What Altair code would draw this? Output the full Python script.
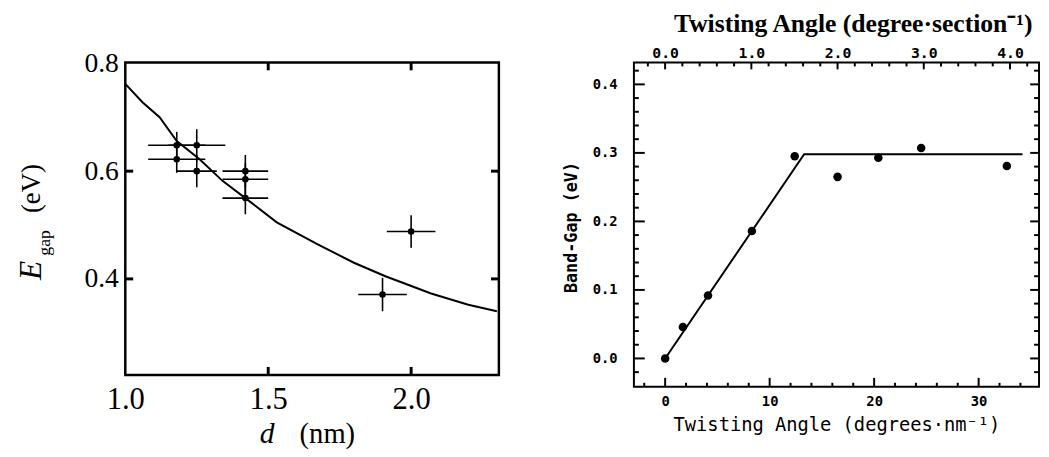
import altair as alt
import pandas as pd

# ---------------- left panel: E_gap vs ribbon width d ----------------
curve_d = [1.00, 1.06, 1.12, 1.18, 1.26, 1.34, 1.42, 1.53, 1.67, 1.80, 1.91, 2.07, 2.20, 2.30]
curve_e = [0.762, 0.728, 0.700, 0.656, 0.622, 0.582, 0.550, 0.505, 0.465, 0.430, 0.405, 0.373, 0.352, 0.340]

pt_d = [1.18, 1.25, 1.18, 1.25, 1.42, 1.42, 1.42, 2.00, 1.90]
pt_e = [0.648, 0.648, 0.622, 0.600, 0.600, 0.585, 0.550, 0.488, 0.371]
pt_d_err = [0.10, 0.10, 0.10, 0.07, 0.08, 0.08, 0.08, 0.085, 0.085]
pt_e_err = [0.025, 0.030, 0.025, 0.030, 0.030, 0.030, 0.030, 0.030, 0.031]

left_x_labels = [1.0, 1.5, 2.0]
left_y_labels = [0.4, 0.6, 0.8]
left_x_ticks = [1.5, 2.0]
left_y_ticks = [0.4, 0.6]

# ---------------- right panel: band gap vs twisting angle ----------------
twist_nm = [0.0, 1.7, 4.1, 8.3, 12.4, 16.5, 20.4, 24.5, 32.7]
band_gap = [0.000, 0.046, 0.092, 0.186, 0.295, 0.265, 0.293, 0.307, 0.281]
fit_nm = [0.0, 13.3, 34.2]
fit_gap = [0.000, 0.298, 0.298]

bot_major = [0, 10, 20, 30]
bot_minor = [-2, 2, 4, 6, 8, 12, 14, 16, 18, 22, 24, 26, 28, 32, 34]
top_major = [0.0, 1.0, 2.0, 3.0, 4.0]
top_minor = [-0.2, 0.2, 0.4, 0.6, 0.8, 1.2, 1.4, 1.6, 1.8, 2.2, 2.4, 2.6, 2.8,
             3.2, 3.4, 3.6, 3.8, 4.2]
y_major = [0.0, 0.1, 0.2, 0.3, 0.4]
y_minor = [-0.02, 0.02, 0.04, 0.06, 0.08, 0.12, 0.14, 0.16, 0.18, 0.22, 0.24,
           0.26, 0.28, 0.32, 0.34, 0.36, 0.38, 0.42]

# ---------------- left chart ----------------
LW, LH = 379, 317
SERIF = "Liberation Serif"

lx_scale = alt.Scale(domain=[1.0, 2.307], nice=False, zero=False)
ly_scale = alt.Scale(domain=[0.2218, 0.8018], nice=False, zero=False)
lx_axis = alt.Axis(values=left_x_labels, format=".1f", title=None, ticks=False, domain=False,
                   grid=False, labelFont=SERIF, labelFontSize=31, labelColor="black",
                   labelPadding=10, labelFlush=False)
ly_axis = alt.Axis(values=left_y_labels, format=".1f", title=None, ticks=False, domain=False,
                   grid=False, labelFont=SERIF, labelFontSize=28, labelColor="black",
                   labelPadding=7, labelFlush=False)

def LX(f):
    return alt.X(f, type="quantitative", scale=lx_scale, axis=lx_axis)

def LY(f):
    return alt.Y(f, type="quantitative", scale=ly_scale, axis=ly_axis)

curve_df = pd.DataFrame({"d": curve_d, "e": curve_e})
pts_df = pd.DataFrame({"d": pt_d, "e": pt_e})
pts_df["d_lo"] = [a - b for a, b in zip(pt_d, pt_d_err)]
pts_df["d_hi"] = [a + b for a, b in zip(pt_d, pt_d_err)]
pts_df["e_lo"] = [a - b for a, b in zip(pt_e, pt_e_err)]
pts_df["e_hi"] = [a + b for a, b in zip(pt_e, pt_e_err)]
lxt_df = pd.DataFrame({"d": left_x_ticks})
lyt_df = pd.DataFrame({"e": left_y_ticks})
one = pd.DataFrame({"k": [0]})

curve = alt.Chart(curve_df).mark_line(color="black", strokeWidth=2).encode(x=LX("d"), y=LY("e"))
hbar = alt.Chart(pts_df).mark_rule(color="black", strokeWidth=1.6).encode(
    x=LX("d_lo"), x2="d_hi", y=LY("e"))
vbar = alt.Chart(pts_df).mark_rule(color="black", strokeWidth=1.6).encode(
    x=LX("d"), y=LY("e_lo"), y2="e_hi")
dots = alt.Chart(pts_df).mark_circle(color="black", opacity=1, size=45).encode(x=LX("d"), y=LY("e"))

tk = dict(color="black", strokeWidth=3)
t_bot = alt.Chart(lxt_df).mark_rule(**tk).encode(x=LX("d"), y=alt.value(LH), y2=alt.value(LH - 8))
t_top = alt.Chart(lxt_df).mark_rule(**tk).encode(x=LX("d"), y=alt.value(0), y2=alt.value(8))
t_lft = alt.Chart(lyt_df).mark_rule(**tk).encode(y=LY("e"), x=alt.value(0), x2=alt.value(8))
t_rgt = alt.Chart(lyt_df).mark_rule(**tk).encode(y=LY("e"), x=alt.value(LW), x2=alt.value(LW - 8))

def label(txt, x, y, size, style="normal", angle=0):
    return alt.Chart(one).mark_text(text=txt, font=SERIF, fontSize=size, fontStyle=style,
                                    angle=angle, align="center", baseline="middle",
                                    color="black").encode(x=alt.value(x), y=alt.value(y))

lab_E = label("E", -96, 211, 32, "italic", 270)
lab_gap = label("gap", -81, 183, 18, "normal", 270)
lab_eV = label("(eV)", -95, 128, 27, "normal", 270)
lab_d = label("d", 144, 377, 30, "italic")
lab_nm = label("(nm)", 205, 377, 29, "normal")

left = alt.layer(curve, hbar, vbar, dots, t_bot, t_top, t_lft, t_rgt,
                 lab_E, lab_gap, lab_eV, lab_d, lab_nm).properties(width=LW, height=LH)

# ---------------- right chart ----------------
RW, RH = 411, 329
MONO = "DejaVu Sans Mono"
rx_scale = alt.Scale(domain=[-2.99, 35.78], nice=False, zero=False)
rs_scale = alt.Scale(domain=[-0.362, 4.337], nice=False, zero=False)
ry_scale = alt.Scale(domain=[-0.0413, 0.432], nice=False, zero=False)

rx_axis = alt.Axis(values=bot_major, format="d", title="Twisting Angle (degrees·nm⁻¹)",
                   ticks=False, domain=False, grid=False, labelFont=MONO, labelFontSize=14,
                   labelFontWeight="bold", labelColor="black", labelPadding=8, labelFlush=False,
                   titleFont=MONO, titleFontSize=19, titleFontWeight="normal", titleColor="black",
                   titleBaseline="middle", titleY=38)
rs_axis = alt.Axis(orient="top", values=top_major, format=".1f",
                   title="Twisting Angle (degree·section⁻¹)",
                   ticks=False, domain=False, grid=False, labelFont=MONO, labelFontSize=15,
                   labelFontWeight="bold", labelColor="black", labelPadding=2, labelFlush=False,
                   titleFont=SERIF, titleFontSize=26, titleFontWeight="bold", titleColor="black",
                   titleBaseline="alphabetic", titleX=222, titleY=-31)
ry_axis = alt.Axis(values=y_major, format=".1f", title="Band-Gap (eV)",
                   ticks=False, domain=False, grid=False, labelFont=MONO, labelFontSize=14,
                   labelFontWeight="bold", labelColor="black", labelPadding=17, labelFlush=False,
                   titleFont=MONO, titleFontSize=17, titleFontWeight="bold", titleColor="black",
                   titleBaseline="middle", titleX=-63, titleY=167)

def RX(f):
    return alt.X(f, type="quantitative", scale=rx_scale, axis=rx_axis)

def RY(f):
    return alt.Y(f, type="quantitative", scale=ry_scale, axis=ry_axis)

def RS(f):
    return alt.X(f, type="quantitative", scale=rs_scale, axis=rs_axis)

pts_r = pd.DataFrame({"t": twist_nm, "g": band_gap})
fit_r = pd.DataFrame({"t": fit_nm, "g": fit_gap})
bmaj = pd.DataFrame({"t": bot_major})
bmin = pd.DataFrame({"t": bot_minor})
ymaj = pd.DataFrame({"g": y_major})
ymin = pd.DataFrame({"g": y_minor})
smaj = pd.DataFrame({"s": top_major})
smin = pd.DataFrame({"s": top_minor})

rt = dict(color="black", strokeWidth=2)
fit_line = alt.Chart(fit_r).mark_line(color="black", strokeWidth=2).encode(x=RX("t"), y=RY("g"))
r_dots = alt.Chart(pts_r).mark_circle(color="black", opacity=1, size=75).encode(x=RX("t"), y=RY("g"))
b_maj = alt.Chart(bmaj).mark_rule(**rt).encode(x=RX("t"), y=alt.value(RH), y2=alt.value(RH - 9))
b_min = alt.Chart(bmin).mark_rule(**rt).encode(x=RX("t"), y=alt.value(RH), y2=alt.value(RH - 4))
l_maj = alt.Chart(ymaj).mark_rule(**rt).encode(y=RY("g"), x=alt.value(0), x2=alt.value(11))
l_min = alt.Chart(ymin).mark_rule(**rt).encode(y=RY("g"), x=alt.value(0), x2=alt.value(5))
r_maj = alt.Chart(ymaj).mark_rule(**rt).encode(y=RY("g"), x=alt.value(RW), x2=alt.value(RW - 9))
r_min = alt.Chart(ymin).mark_rule(**rt).encode(y=RY("g"), x=alt.value(RW), x2=alt.value(RW - 5))

bottom_layers = alt.layer(fit_line, r_dots, b_maj, b_min, l_maj, l_min, r_maj, r_min)

s_maj = alt.Chart(smaj).mark_rule(**rt).encode(x=RS("s"), y=alt.value(0), y2=alt.value(7))
s_min = alt.Chart(smin).mark_rule(**rt).encode(x=RS("s"), y=alt.value(0), y2=alt.value(4))
top_layers = alt.layer(s_maj, s_min)

right = alt.layer(bottom_layers, top_layers).resolve_scale(x="independent").properties(
    width=RW, height=RH, view=alt.ViewBackground(stroke="black", strokeWidth=2))

chart = alt.hconcat(left, right, spacing=60).properties(
    padding={"left": 5, "top": -1, "right": 0, "bottom": 0}
).configure(background="white").configure_view(stroke="black", strokeWidth=2.5)

chart.save("out.html", embed_options={"renderer": "svg", "actions": False})
